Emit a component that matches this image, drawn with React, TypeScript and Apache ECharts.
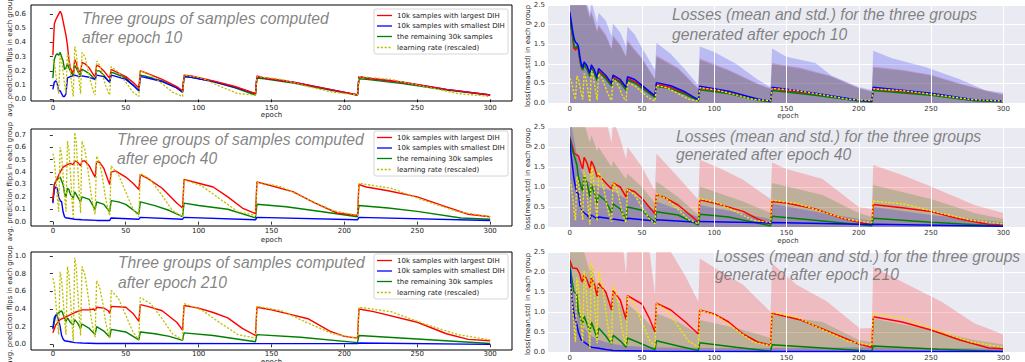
import React, { useEffect, useRef } from "react";
import * as echarts from "echarts";

type Pt = [number, number];

// ---------- shared ticks / labels ----------
const xTicks = [0, 50, 100, 150, 200, 250, 300];
const yTicksTL = [0, 0.1, 0.2, 0.3, 0.4, 0.5, 0.6];
const yTicksML = [0, 0.1, 0.2, 0.3, 0.4, 0.5, 0.6, 0.7];
const yTicksBL = [0, 0.2, 0.4, 0.6, 0.8, 1.0];

const seriesNames = [
  "10k samples with largest DIH",
  "10k samples with smallest DIH",
  "the remaining 30k samples",
  "learning rate (rescaled)",
];
const titlesLeft = [
  ["Three groups of samples computed", "after epoch 10"],
  ["Three groups of samples computed", "after epoch 40"],
  ["Three groups of samples computed", "after epoch 210"],
];
const titlesRight = [
  ["Losses (mean and std.) for the three groups", "generated after epoch 10"],
  ["Losses (mean and std.) for the three groups", "generated after epoch 40"],
  ["Losses (mean and std.) for the three groups", "generated after epoch 210"],
];
const xName = "epoch";
const yNameLeft = "avg. prediction flips in each group";
const yNameRight = "loss(mean,std) in each group";

// ---------- learning rate (rescaled), read per panel ----------
const lrEpochs = [0, 1, 2, 3, 4, 5, 6, 7, 8, 9, 10, 11, 12, 13, 14, 15, 16, 17, 18, 19, 20, 22, 24, 26, 28, 29, 30, 32, 34, 36, 38, 39, 40, 45, 50, 55, 59, 60, 67, 75, 82, 89, 90, 102, 115, 127, 139, 140, 157, 175, 192, 209, 210, 232, 255, 278, 300];
const lrTL = [0.28, 0.26, 0.18, 0.10, 0.04, 0.31, 0.28, 0.19, 0.11, 0.04, 0.33, 0.30, 0.20, 0.10, 0.02, 0.37, 0.33, 0.23, 0.13, 0.04, 0.33, 0.30, 0.21, 0.12, 0.05, 0.03, 0.27, 0.24, 0.18, 0.10, 0.05, 0.03, 0.23, 0.19, 0.12, 0.05, 0.02, 0.20, 0.17, 0.11, 0.05, 0.02, 0.17, 0.15, 0.09, 0.04, 0.03, 0.16, 0.14, 0.09, 0.05, 0.03, 0.16, 0.14, 0.09, 0.04, 0.02];
const lrML = [0.55, 0.50, 0.36, 0.20, 0.08, 0.60, 0.54, 0.38, 0.21, 0.08, 0.65, 0.58, 0.40, 0.20, 0.03, 0.72, 0.65, 0.45, 0.25, 0.07, 0.65, 0.58, 0.42, 0.24, 0.10, 0.06, 0.53, 0.48, 0.36, 0.20, 0.09, 0.05, 0.45, 0.38, 0.24, 0.10, 0.04, 0.39, 0.34, 0.21, 0.09, 0.04, 0.34, 0.29, 0.18, 0.08, 0.05, 0.32, 0.28, 0.18, 0.09, 0.05, 0.31, 0.27, 0.17, 0.08, 0.04];
const lrBL = [0.75, 0.68, 0.49, 0.27, 0.11, 0.82, 0.73, 0.52, 0.29, 0.11, 0.88, 0.79, 0.54, 0.27, 0.04, 0.98, 0.88, 0.61, 0.34, 0.10, 0.88, 0.79, 0.57, 0.33, 0.14, 0.08, 0.72, 0.65, 0.49, 0.27, 0.12, 0.07, 0.61, 0.52, 0.33, 0.14, 0.05, 0.53, 0.46, 0.29, 0.12, 0.05, 0.46, 0.39, 0.24, 0.11, 0.07, 0.43, 0.38, 0.24, 0.12, 0.07, 0.42, 0.37, 0.23, 0.11, 0.05];
const lrTR = [0.63, 0.58, 0.41, 0.23, 0.09, 0.69, 0.62, 0.44, 0.24, 0.09, 0.75, 0.67, 0.46, 0.23, 0.03, 0.83, 0.75, 0.52, 0.29, 0.08, 0.75, 0.67, 0.48, 0.28, 0.12, 0.07, 0.61, 0.55, 0.41, 0.23, 0.10, 0.06, 0.52, 0.44, 0.28, 0.12, 0.05, 0.45, 0.39, 0.24, 0.10, 0.05, 0.39, 0.33, 0.21, 0.09, 0.06, 0.37, 0.32, 0.21, 0.10, 0.06, 0.36, 0.31, 0.20, 0.09, 0.05];
const lrMR = [1.16, 1.05, 0.76, 0.42, 0.17, 1.26, 1.13, 0.80, 0.44, 0.17, 1.37, 1.22, 0.84, 0.42, 0.06, 1.51, 1.37, 0.95, 0.53, 0.15, 1.37, 1.22, 0.88, 0.50, 0.21, 0.13, 1.11, 1.01, 0.76, 0.42, 0.19, 0.11, 0.95, 0.80, 0.50, 0.21, 0.08, 0.82, 0.71, 0.44, 0.19, 0.08, 0.71, 0.61, 0.38, 0.17, 0.11, 0.67, 0.59, 0.38, 0.19, 0.11, 0.65, 0.57, 0.36, 0.17, 0.08];
const lrBR = [1.71, 1.55, 1.12, 0.62, 0.25, 1.86, 1.67, 1.18, 0.65, 0.25, 2.02, 1.80, 1.24, 0.62, 0.09, 2.23, 2.02, 1.40, 0.78, 0.22, 2.02, 1.80, 1.30, 0.74, 0.31, 0.19, 1.64, 1.49, 1.12, 0.62, 0.28, 0.16, 1.40, 1.18, 0.74, 0.31, 0.12, 1.21, 1.05, 0.65, 0.28, 0.12, 1.05, 0.90, 0.56, 0.25, 0.16, 0.99, 0.87, 0.56, 0.28, 0.16, 0.96, 0.84, 0.53, 0.25, 0.12];

// ---------- left panels: avg. prediction flips ----------
const tlRed: Pt[] = [[0, 0.31], [1, 0.53], [2, 0.56], [3, 0.58], [4, 0.6], [5, 0.62], [6, 0.6], [7, 0.55], [8, 0.5], [9, 0.45], [10, 0.38], [11, 0.28], [12, 0.22], [13, 0.2], [14, 0.18], [15, 0.28], [16, 0.26], [17, 0.22], [18, 0.2], [19, 0.19], [20, 0.26], [22, 0.25], [25, 0.22], [28, 0.17], [29, 0.16], [30, 0.24], [32, 0.23], [35, 0.2], [38, 0.16], [39, 0.15], [40, 0.21], [42, 0.2], [50, 0.16], [55, 0.12], [59, 0.08], [60, 0.2], [63, 0.19], [75, 0.14], [85, 0.09], [89, 0.06], [90, 0.17], [95, 0.165], [110, 0.13], [125, 0.09], [139, 0.04], [140, 0.165], [145, 0.15], [165, 0.12], [190, 0.07], [209, 0.03], [210, 0.16], [215, 0.15], [240, 0.12], [270, 0.07], [300, 0.03]];
const tlBlue: Pt[] = [[0, 0.07], [1, 0.12], [2, 0.13], [3, 0.11], [4, 0.06], [5, 0.06], [6, 0.04], [7, 0.02], [8, 0.02], [9, 0.04], [10, 0.15], [12, 0.16], [15, 0.17], [18, 0.16], [20, 0.165], [25, 0.155], [29, 0.14], [30, 0.17], [35, 0.16], [39, 0.12], [40, 0.17], [42, 0.165], [50, 0.14], [55, 0.1], [59, 0.06], [60, 0.16], [63, 0.155], [75, 0.125], [85, 0.08], [89, 0.05], [90, 0.16], [95, 0.155], [110, 0.125], [125, 0.085], [139, 0.04], [140, 0.16], [145, 0.15], [165, 0.12], [190, 0.07], [209, 0.03], [210, 0.16], [215, 0.15], [240, 0.12], [270, 0.07], [300, 0.03]];
const tlGreen: Pt[] = [[0, 0.15], [1, 0.28], [2, 0.31], [3, 0.32], [4, 0.31], [5, 0.33], [6, 0.3], [7, 0.27], [8, 0.21], [9, 0.22], [10, 0.25], [11, 0.22], [12, 0.2], [13, 0.18], [14, 0.17], [15, 0.24], [16, 0.22], [17, 0.2], [18, 0.18], [19, 0.17], [20, 0.21], [22, 0.2], [25, 0.18], [28, 0.15], [29, 0.14], [30, 0.2], [32, 0.2], [35, 0.17], [38, 0.13], [39, 0.12], [40, 0.19], [42, 0.185], [50, 0.15], [55, 0.1], [59, 0.06], [60, 0.17], [63, 0.165], [75, 0.13], [85, 0.08], [89, 0.05], [90, 0.16], [95, 0.155], [110, 0.125], [125, 0.08], [139, 0.03], [140, 0.15], [145, 0.145], [165, 0.115], [190, 0.065], [209, 0.03], [210, 0.145], [215, 0.14], [240, 0.11], [270, 0.065], [300, 0.03]];

const mlRed: Pt[] = [[0, 0.17], [1, 0.3], [2, 0.33], [3, 0.35], [5, 0.4], [7, 0.44], [10, 0.46], [12, 0.47], [14, 0.46], [15, 0.49], [17, 0.48], [19, 0.45], [20, 0.49], [22, 0.49], [25, 0.45], [28, 0.38], [29, 0.36], [30, 0.485], [32, 0.48], [35, 0.43], [38, 0.33], [39, 0.3], [40, 0.4], [43, 0.41], [50, 0.36], [55, 0.31], [59, 0.26], [60, 0.38], [65, 0.35], [75, 0.27], [85, 0.15], [89, 0.11], [90, 0.34], [100, 0.31], [110, 0.28], [120, 0.2], [130, 0.11], [139, 0.065], [140, 0.32], [150, 0.29], [165, 0.24], [180, 0.15], [195, 0.07], [209, 0.05], [210, 0.3], [215, 0.28], [230, 0.25], [250, 0.2], [270, 0.12], [285, 0.06], [300, 0.04]];
const mlBlue: Pt[] = [[0, 0.15], [1, 0.26], [2, 0.28], [3, 0.27], [4, 0.2], [5, 0.17], [6, 0.16], [7, 0.08], [8, 0.04], [9, 0.03], [10, 0.03], [15, 0.02], [20, 0.015], [30, 0.01], [39, 0.01], [40, 0.03], [59, 0.02], [60, 0.035], [89, 0.02], [90, 0.035], [139, 0.015], [140, 0.035], [209, 0.015], [210, 0.035], [300, 0.01]];
const mlGreen: Pt[] = [[0, 0.16], [1, 0.3], [3, 0.34], [5, 0.36], [7, 0.3], [8, 0.23], [9, 0.2], [10, 0.27], [11, 0.26], [12, 0.22], [14, 0.19], [15, 0.24], [16, 0.22], [19, 0.16], [20, 0.2], [25, 0.18], [29, 0.1], [30, 0.16], [35, 0.14], [39, 0.08], [40, 0.17], [45, 0.16], [50, 0.14], [59, 0.06], [60, 0.16], [70, 0.13], [80, 0.09], [89, 0.04], [90, 0.15], [100, 0.13], [120, 0.1], [139, 0.03], [140, 0.14], [160, 0.12], [185, 0.08], [209, 0.04], [210, 0.13], [230, 0.11], [250, 0.083], [280, 0.03], [300, 0.02]];

const blRed: Pt[] = [[0, 0.13], [2, 0.22], [5, 0.28], [10, 0.32], [15, 0.36], [20, 0.39], [25, 0.39], [28, 0.4], [29, 0.38], [30, 0.42], [35, 0.41], [38, 0.38], [39, 0.35], [40, 0.43], [50, 0.42], [55, 0.35], [59, 0.26], [60, 0.45], [65, 0.43], [75, 0.38], [85, 0.25], [89, 0.16], [90, 0.44], [100, 0.41], [110, 0.36], [120, 0.3], [130, 0.18], [139, 0.1], [140, 0.42], [150, 0.39], [160, 0.35], [175, 0.29], [190, 0.15], [200, 0.09], [209, 0.07], [210, 0.4], [220, 0.37], [250, 0.25], [270, 0.12], [285, 0.056], [300, 0.04]];
const blBlue: Pt[] = [[0, 0.18], [1, 0.3], [2, 0.33], [3, 0.32], [4, 0.27], [5, 0.2], [6, 0.1], [7, 0.06], [8, 0.04], [10, 0.035], [12, 0.03], [15, 0.02], [20, 0.015], [30, 0.01], [60, 0.01], [140, 0.008], [209, 0.008], [210, 0.015], [300, 0.0]];
const blGreen: Pt[] = [[0, 0.17], [2, 0.33], [5, 0.37], [6, 0.38], [8, 0.3], [9, 0.26], [10, 0.3], [12, 0.25], [14, 0.22], [15, 0.28], [17, 0.24], [19, 0.18], [20, 0.23], [25, 0.18], [29, 0.11], [30, 0.2], [35, 0.15], [39, 0.08], [40, 0.17], [50, 0.14], [59, 0.05], [60, 0.14], [70, 0.12], [80, 0.09], [89, 0.045], [90, 0.13], [110, 0.1], [139, 0.03], [140, 0.11], [170, 0.08], [209, 0.02], [210, 0.1], [250, 0.06], [300, 0.01]];

// ---------- right panels: loss mean ----------
const trRed: Pt[] = [[0, 2.15], [1, 1.95], [2, 1.7], [3, 1.4], [4, 1.35], [5, 1.42], [6, 1.38], [7, 1.1], [8, 0.92], [9, 0.85], [10, 0.98], [12, 0.88], [14, 0.7], [15, 0.9], [17, 0.78], [19, 0.6], [20, 0.82], [25, 0.65], [29, 0.46], [30, 0.66], [35, 0.55], [39, 0.36], [40, 0.62], [45, 0.55], [50, 0.41], [59, 0.16], [60, 0.47], [70, 0.4], [80, 0.25], [89, 0.07], [90, 0.38], [110, 0.27], [130, 0.09], [139, 0.04], [140, 0.36], [170, 0.22], [200, 0.06], [209, 0.04], [210, 0.35], [250, 0.22], [280, 0.07], [300, 0.04]];
const trBlue: Pt[] = [[0, 2.33], [1, 2.1], [2, 1.85], [3, 1.65], [4, 1.55], [5, 1.52], [6, 1.45], [7, 1.2], [8, 1.0], [9, 0.9], [10, 1.05], [12, 0.95], [14, 0.75], [15, 0.97], [17, 0.85], [19, 0.65], [20, 0.88], [25, 0.7], [29, 0.5], [30, 0.71], [35, 0.6], [39, 0.4], [40, 0.67], [45, 0.6], [50, 0.45], [59, 0.18], [60, 0.52], [70, 0.44], [80, 0.28], [89, 0.08], [90, 0.43], [110, 0.3], [130, 0.1], [139, 0.05], [140, 0.4], [170, 0.25], [200, 0.07], [209, 0.05], [210, 0.4], [250, 0.25], [280, 0.08], [300, 0.05]];
const trGreen: Pt[] = [[0, 2.2], [1, 1.95], [2, 1.72], [3, 1.45], [4, 1.4], [5, 1.45], [6, 1.38], [7, 1.12], [8, 0.93], [9, 0.84], [10, 0.97], [12, 0.86], [14, 0.68], [15, 0.88], [17, 0.76], [19, 0.57], [20, 0.78], [25, 0.62], [29, 0.43], [30, 0.62], [35, 0.52], [39, 0.33], [40, 0.58], [45, 0.51], [50, 0.38], [59, 0.14], [60, 0.43], [70, 0.36], [80, 0.22], [89, 0.05], [90, 0.34], [110, 0.24], [130, 0.07], [139, 0.03], [140, 0.32], [170, 0.2], [200, 0.05], [209, 0.03], [210, 0.32], [250, 0.2], [280, 0.06], [300, 0.03]];
// mean + std upper edges
const trRedUp: Pt[] = [[0, 2.8], [10, 2.7], [14, 2.2], [15, 2.35], [19, 1.85], [20, 2.0], [25, 1.75], [29, 1.4], [30, 1.73], [35, 1.5], [39, 1.2], [40, 1.6], [50, 1.15], [59, 0.62], [60, 1.22], [75, 0.9], [89, 0.37], [90, 1.14], [110, 0.85], [130, 0.5], [139, 0.37], [140, 1.02], [160, 0.9], [180, 0.7], [200, 0.38], [209, 0.3], [210, 0.93], [230, 0.85], [250, 0.72], [270, 0.5], [290, 0.3], [300, 0.22]];
const trGreenUp: Pt[] = [[0, 2.8], [10, 2.65], [14, 2.15], [15, 2.3], [19, 1.8], [20, 1.95], [25, 1.7], [29, 1.36], [30, 1.68], [35, 1.46], [39, 1.16], [40, 1.55], [50, 1.12], [59, 0.6], [60, 1.18], [75, 0.87], [89, 0.36], [90, 1.1], [110, 0.82], [130, 0.48], [139, 0.36], [140, 0.99], [160, 0.87], [180, 0.68], [200, 0.37], [209, 0.29], [210, 0.9], [230, 0.82], [250, 0.7], [270, 0.48], [290, 0.29], [300, 0.21]];
const trBlueUp: Pt[] = [[0, 2.8], [10, 2.8], [12, 2.55], [14, 2.3], [15, 2.6], [19, 2.05], [20, 2.3], [25, 2.1], [29, 1.7], [30, 2.03], [35, 1.8], [39, 1.45], [40, 1.95], [45, 1.75], [50, 1.4], [55, 1.1], [59, 0.84], [60, 1.54], [70, 1.25], [80, 0.85], [89, 0.45], [90, 1.44], [100, 1.3], [115, 1.0], [130, 0.6], [139, 0.4], [140, 1.39], [150, 1.18], [170, 1.02], [181, 0.7], [200, 0.41], [209, 0.33], [210, 1.33], [223, 1.14], [246, 0.92], [269, 0.62], [287, 0.33], [300, 0.26]];

const mrRed: Pt[] = [[0, 2.26], [2, 2.0], [3, 1.85], [5, 1.8], [6, 1.78], [8, 1.55], [9, 1.45], [10, 1.74], [12, 1.6], [14, 1.35], [15, 1.65], [17, 1.5], [19, 1.25], [20, 1.28], [22, 1.22], [25, 1.1], [29, 0.95], [30, 1.1], [35, 1.0], [39, 0.75], [40, 0.95], [45, 0.88], [50, 0.72], [55, 0.5], [59, 0.33], [60, 0.81], [65, 0.75], [75, 0.55], [85, 0.25], [89, 0.12], [90, 0.68], [100, 0.6], [120, 0.39], [130, 0.2], [139, 0.08], [140, 0.64], [150, 0.6], [170, 0.45], [190, 0.2], [209, 0.05], [210, 0.56], [230, 0.48], [250, 0.39], [270, 0.2], [290, 0.06], [300, 0.05]];
const mrBlue: Pt[] = [[0, 2.2], [1, 1.8], [2, 1.5], [3, 1.2], [4, 1.0], [5, 0.85], [6, 0.85], [7, 0.55], [8, 0.45], [10, 0.35], [12, 0.3], [14, 0.2], [15, 0.3], [19, 0.2], [20, 0.25], [30, 0.2], [39, 0.15], [40, 0.22], [59, 0.15], [60, 0.18], [89, 0.12], [90, 0.14], [139, 0.1], [140, 0.11], [209, 0.06], [210, 0.07], [300, 0.02]];
const mrGreen: Pt[] = [[0, 2.25], [2, 1.9], [3, 1.8], [5, 1.55], [6, 1.25], [8, 1.0], [9, 0.9], [10, 1.3], [12, 1.1], [14, 0.75], [15, 1.05], [17, 0.85], [19, 0.6], [20, 0.8], [25, 0.65], [29, 0.35], [30, 0.58], [35, 0.45], [39, 0.2], [40, 0.5], [50, 0.42], [59, 0.1], [60, 0.38], [75, 0.3], [89, 0.05], [90, 0.32], [110, 0.25], [139, 0.03], [140, 0.27], [175, 0.15], [209, 0.03], [210, 0.22], [250, 0.12], [300, 0.02]];
const mrRedUp: Pt[] = [[0, 2.8], [25, 2.7], [29, 2.1], [30, 2.7], [35, 2.2], [39, 1.7], [40, 2.0], [50, 1.5], [58, 0.97], [59, 0.95], [60, 1.84], [75, 1.25], [89, 0.68], [90, 1.68], [105, 1.45], [120, 1.18], [139, 0.7], [140, 1.61], [150, 1.45], [175, 1.2], [200, 0.5], [209, 0.45], [210, 1.55], [230, 1.3], [250, 1.01], [280, 0.55], [300, 0.35]];
const mrGreenUp: Pt[] = [[0, 2.8], [10, 2.6], [14, 2.1], [15, 2.3], [19, 1.9], [20, 2.0], [29, 1.5], [30, 1.65], [39, 1.2], [40, 1.34], [50, 1.0], [59, 0.6], [60, 1.14], [75, 0.75], [89, 0.3], [90, 1.01], [120, 0.64], [139, 0.35], [140, 1.1], [175, 0.8], [200, 0.35], [209, 0.25], [210, 1.05], [250, 0.7], [280, 0.35], [300, 0.2]];
const mrBlueUp: Pt[] = [[0, 2.8], [3, 2.2], [5, 1.8], [10, 1.2], [20, 1.0], [30, 0.9], [39, 0.7], [40, 0.93], [59, 0.4], [60, 0.64], [89, 0.25], [90, 0.55], [139, 0.2], [140, 0.58], [175, 0.35], [209, 0.15], [210, 0.5], [250, 0.3], [300, 0.12]];

const brRed: Pt[] = [[0, 2.3], [2, 2.1], [5, 2.09], [7, 1.95], [8, 1.8], [9, 1.75], [10, 1.94], [12, 1.8], [14, 1.6], [15, 1.85], [17, 1.7], [19, 1.4], [20, 1.72], [25, 1.5], [29, 1.05], [30, 1.53], [35, 1.3], [39, 0.82], [40, 1.41], [50, 1.2], [55, 0.85], [59, 0.5], [60, 1.22], [70, 1.05], [80, 0.75], [89, 0.45], [90, 1.05], [100, 0.95], [110, 0.75], [120, 0.45], [130, 0.25], [139, 0.17], [140, 0.97], [160, 0.8], [180, 0.5], [200, 0.2], [209, 0.12], [210, 0.88], [230, 0.75], [250, 0.55], [270, 0.3], [290, 0.1], [300, 0.08]];
const brBlue: Pt[] = [[0, 2.1], [1, 1.6], [2, 1.2], [3, 0.95], [4, 0.8], [5, 0.68], [6, 0.5], [8, 0.3], [11, 0.22], [15, 0.12], [19, 0.1], [25, 0.06], [30, 0.04], [60, 0.02], [140, 0.015], [210, 0.015], [300, 0.01]];
const brGreen: Pt[] = [[0, 2.2], [2, 1.7], [3, 1.5], [5, 1.45], [6, 1.0], [8, 0.8], [9, 0.7], [10, 0.9], [12, 0.7], [14, 0.5], [15, 0.75], [17, 0.55], [19, 0.35], [20, 0.6], [25, 0.4], [29, 0.2], [30, 0.42], [35, 0.28], [39, 0.12], [40, 0.35], [50, 0.2], [59, 0.06], [60, 0.28], [75, 0.15], [89, 0.04], [90, 0.23], [115, 0.12], [139, 0.02], [140, 0.18], [175, 0.1], [209, 0.02], [210, 0.15], [255, 0.07], [300, 0.01]];
const brRedUp: Pt[] = [[0, 2.8], [37, 2.6], [39, 1.93], [40, 2.8], [55, 2.6], [59, 1.43], [60, 2.8], [70, 2.5], [80, 1.9], [89, 1.26], [90, 2.34], [105, 2.0], [120, 1.68], [139, 1.0], [140, 2.22], [157, 1.68], [178, 1.26], [201, 0.59], [209, 0.6], [210, 2.13], [234, 1.68], [257, 1.26], [280, 0.72], [300, 0.44]];
const brGreenUp: Pt[] = [[0, 2.8], [10, 2.5], [14, 2.0], [15, 2.2], [19, 1.6], [20, 1.8], [29, 1.2], [30, 1.5], [39, 0.9], [40, 1.2], [50, 0.9], [59, 0.55], [60, 0.97], [75, 0.75], [89, 0.45], [90, 0.8], [115, 0.6], [139, 0.35], [140, 0.93], [175, 0.75], [200, 0.3], [209, 0.25], [210, 0.84], [250, 0.55], [280, 0.3], [300, 0.19]];
const brBlueUp: Pt[] = [[0, 2.5], [2, 1.8], [3, 1.5], [5, 1.2], [8, 0.8], [10, 0.6], [15, 0.4], [20, 0.3], [30, 0.2], [40, 0.15], [60, 0.12], [90, 0.1], [140, 0.1], [210, 0.12], [250, 0.1], [300, 0.08]];

const zip = (xs: number[], ys: number[]): Pt[] => xs.map((x, i) => [x, ys[i]]);

// ---------- layout ----------
const LEFT_X = 31;
const LEFT_W = 481;
const RIGHT_X = 548;
const RIGHT_W = 480;
const leftLayout = [
  { top: 5, height: 96, min: -0.012, max: 0.664, ticks: yTicksTL, labelMargin: 3, legendTop: 9, title: { x: 82, y1: 18, y2: 37 }, epochY: 115 },
  { top: 129, height: 97, min: -0.035, max: 0.748, ticks: yTicksML, labelMargin: 1, legendTop: 131, title: { x: 117, y1: 139.5, y2: 158.5 }, epochY: 240 },
  { top: 252, height: 98, min: -0.064, max: 1.045, ticks: yTicksBL, labelMargin: 0, legendTop: 254, title: { x: 118, y1: 262.5, y2: 282.5 }, epochY: 362 },
];
const rightLayout = [
  { top: 5, height: 98, title: { x: 672, y1: 14.5, y2: 34 }, epochY: 116 },
  { top: 127, height: 100, title: { x: 676, y1: 136, y2: 154 }, epochY: 240.5 },
  { top: 252, height: 100, title: { x: 715, y1: 256, y2: 274.5 }, epochY: 366 },
];

const RED = "#ff0000";
const BLUE = "#0000ff";
const GREEN = "#008000";
const OLIVE = "#bfbf00";
const YELLOW = "#f2e600";
const FONT = "DejaVu Sans";
const TITLE_FONT = "Liberation Sans";

function lineS(name: string, data: Pt[], color: string, gi: number, dashed = false, width = 1.4) {
  return {
    type: "line", name, xAxisIndex: gi, yAxisIndex: gi, data,
    showSymbol: false, symbol: "none", silent: true, z: 3,
    lineStyle: { color, width, type: dashed ? [2.2, 1.6] : "solid" },
  };
}
function bandS(data: Pt[], fill: string, gi: number) {
  return {
    type: "line", xAxisIndex: gi, yAxisIndex: gi, data,
    showSymbol: false, symbol: "none", silent: true, z: 2,
    lineStyle: { width: 0, color: fill },
    areaStyle: { color: fill, origin: "start", opacity: 1 },
  };
}

export default function App() {
  const ref = useRef<HTMLDivElement>(null);
  useEffect(() => {
    if (!ref.current) return;
    const chart = echarts.init(ref.current, undefined, { renderer: "svg" });

    const grid: any[] = [];
    const xAxis: any[] = [];
    const yAxis: any[] = [];
    const series: any[] = [];
    const graphic: any[] = [];

    leftLayout.forEach((L, i) => {
      grid.push({ left: LEFT_X, top: L.top, width: LEFT_W, height: L.height, show: true, borderColor: "#000", borderWidth: 1, backgroundColor: "rgba(0,0,0,0)" });
      xAxis.push({
        type: "value", gridIndex: i, min: -15, max: 315,
        axisLine: { show: false },
        axisTick: { show: true, customValues: xTicks, length: 3, inside: false, lineStyle: { color: "#000", width: 0.8 } },
        axisLabel: { customValues: xTicks, fontSize: 7, color: "#222", margin: L.labelMargin, fontFamily: FONT },
        splitLine: { show: false },
      });
      yAxis.push({
        type: "value", gridIndex: i, min: L.min, max: L.max,
        axisLine: { show: false },
        axisTick: { show: true, customValues: L.ticks, length: 3, lineStyle: { color: "#000", width: 0.8 } },
        axisLabel: { customValues: L.ticks, fontSize: 7, color: "#222", margin: 5, fontFamily: FONT, formatter: (v: number) => v.toFixed(1) },
        splitLine: { show: false },
      });
    });
    rightLayout.forEach((R, j) => {
      grid.push({ left: RIGHT_X, top: R.top, width: RIGHT_W, height: R.height, show: true, borderWidth: 0, borderColor: "rgba(0,0,0,0)", backgroundColor: "#EAEAF2" });
      xAxis.push({
        type: "value", gridIndex: 3 + j, min: -15, max: 315,
        axisLine: { show: false }, axisTick: { show: false },
        axisLabel: { customValues: xTicks, fontSize: 7, color: "#333", margin: 2, fontFamily: FONT },
        splitLine: { show: false },
      });
      yAxis.push({
        type: "value", gridIndex: 3 + j, min: 0, max: 2.5, interval: 0.5,
        axisLine: { show: false }, axisTick: { show: false },
        axisLabel: { fontSize: 7, color: "#333", margin: 3, fontFamily: FONT, formatter: (v: number) => v.toFixed(1) },
        splitLine: { show: true, lineStyle: { color: "#ffffff", width: 1 } },
      });
    });

    // left series
    const leftData = [
      [tlRed, tlBlue, tlGreen, zip(lrEpochs, lrTL)],
      [mlRed, mlBlue, mlGreen, zip(lrEpochs, lrML)],
      [blRed, blBlue, blGreen, zip(lrEpochs, lrBL)],
    ];
    leftData.forEach((d, i) => {
      series.push(lineS(seriesNames[2], d[2], GREEN, i));
      series.push(lineS(seriesNames[1], d[1], BLUE, i));
      series.push(lineS(seriesNames[0], d[0], RED, i));
      series.push(lineS(seriesNames[3], d[3], OLIVE, i, true, 1.3));
    });

    // right series
    const rightData = [
      { up: [trRedUp, trGreenUp, trBlueUp], mean: [trRed, trBlue, trGreen], lr: zip(lrEpochs, lrTR) },
      { up: [mrRedUp, mrGreenUp, mrBlueUp], mean: [mrRed, mrBlue, mrGreen], lr: zip(lrEpochs, lrMR) },
      { up: [brRedUp, brGreenUp, brBlueUp], mean: [brRed, brBlue, brGreen], lr: zip(lrEpochs, lrBR) },
    ];
    rightData.forEach((d, j) => {
      const gi = 3 + j;
      series.push({
        type: "line", xAxisIndex: gi, yAxisIndex: gi, data: [[0, 0]], symbol: "none", showSymbol: false,
        silent: true, z: 1, lineStyle: { opacity: 0, width: 0 },
        markLine: {
          silent: true, symbol: ["none", "none"], label: { show: false },
          lineStyle: { color: "#ffffff", width: 1, type: "solid" },
          data: xTicks.map((v) => ({ xAxis: v })),
          animation: false,
        },
      });
      series.push(bandS(d.up[0], "rgba(255,0,0,0.2)", gi));
      series.push(bandS(d.up[1], "rgba(0,128,0,0.2)", gi));
      series.push(bandS(d.up[2], "rgba(0,0,255,0.2)", gi));
      series.push(lineS(seriesNames[0], d.mean[0], RED, gi, false, 1.5));
      series.push(lineS(seriesNames[2], d.mean[2], GREEN, gi, false, 1.5));
      series.push(lineS(seriesNames[1], d.mean[1], BLUE, gi, false, 1.5));
      series.push(lineS(seriesNames[3], d.lr, YELLOW, gi, true, 1.4));
    });

    // titles, axis names, legends
    const titleStyle = { fill: "rgba(110,110,110,0.85)", fontSize: 15.7, fontStyle: "italic", fontFamily: TITLE_FONT, align: "left", verticalAlign: "middle" };
    leftLayout.forEach((L, i) => {
      graphic.push({ type: "text", x: L.title.x, y: L.title.y1, silent: true, z: 10, style: { ...titleStyle, text: titlesLeft[i][0] } });
      graphic.push({ type: "text", x: L.title.x, y: L.title.y2, silent: true, z: 10, style: { ...titleStyle, text: titlesLeft[i][1] } });
      graphic.push({ type: "text", x: LEFT_X + LEFT_W / 2, y: L.epochY, silent: true, style: { text: xName, fontSize: 7, fontFamily: FONT, fill: "#222", align: "center", verticalAlign: "middle" } });
      graphic.push({ type: "text", x: 10, y: L.top + L.height / 2 + 4, rotation: Math.PI / 2, silent: true, style: { text: yNameLeft, fontSize: 7, fontFamily: FONT, fill: "#222", align: "center", verticalAlign: "middle" } });
      // legend
      const lx = 374, lt = L.legendTop, lw = 134, lh = 45;
      graphic.push({ type: "rect", shape: { x: lx, y: lt, width: lw, height: lh, r: 2 }, silent: true, z: 20, style: { fill: "rgba(255,255,255,0.85)", stroke: "#cccccc", lineWidth: 0.8 } });
      const colors = [RED, BLUE, GREEN, OLIVE];
      const offs = [6.5, 17, 27.5, 38.5];
      seriesNames.forEach((nm, k) => {
        const yy = lt + offs[k];
        graphic.push({ type: "line", shape: { x1: lx + 3, y1: yy, x2: lx + 18, y2: yy }, silent: true, z: 21, style: { stroke: colors[k], lineWidth: 1.3, lineDash: k === 3 ? [2.2, 1.6] : null } });
        graphic.push({ type: "text", x: lx + 23, y: yy, silent: true, z: 21, style: { text: nm, fontSize: 7, fontFamily: FONT, fill: "#222", align: "left", verticalAlign: "middle" } });
      });
    });
    rightLayout.forEach((R, j) => {
      graphic.push({ type: "text", x: R.title.x, y: R.title.y1, silent: true, z: 10, style: { ...titleStyle, text: titlesRight[j][0] } });
      graphic.push({ type: "text", x: R.title.x, y: R.title.y2, silent: true, z: 10, style: { ...titleStyle, text: titlesRight[j][1] } });
      graphic.push({ type: "text", x: RIGHT_X + RIGHT_W / 2, y: R.epochY, silent: true, style: { text: xName, fontSize: 7, fontFamily: FONT, fill: "#333", align: "center", verticalAlign: "middle" } });
      graphic.push({ type: "text", x: 528, y: R.top + R.height / 2 + 2, rotation: Math.PI / 2, silent: true, style: { text: yNameRight, fontSize: 7, fontFamily: FONT, fill: "#222", align: "center", verticalAlign: "middle" } });
    });

    chart.setOption({
      animation: false,
      textStyle: { fontFamily: FONT },
      grid, xAxis, yAxis, series, graphic,
    });
    return () => chart.dispose();
  }, []);
  return <div ref={ref} style={{ position: "absolute", left: 0, top: 0, width: 1025, height: 362 }} />;
}
